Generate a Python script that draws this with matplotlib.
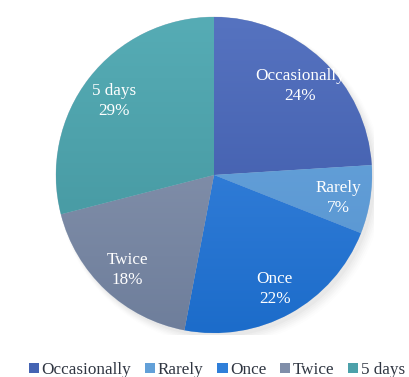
import matplotlib.pyplot as plt
import numpy as np
from matplotlib.colors import LinearSegmentedColormap
from matplotlib.patches import Patch, Circle

labels = ['Occasionally', 'Rarely', 'Once', 'Twice', '5 days']
shares = [24, 7, 22, 18, 29]
top_colors = ['#5673c0', '#6ca7dd', '#428ae2', '#8f9bb4', '#56acb5']
bottom_colors = ['#3955a5', '#5593d0', '#1c6cca', '#6e7e9b', '#41929b']
face_colors = ['#4564b3', '#62a0d8', '#2f7fd9', '#808ea9', '#4ca1aa']

plt.rcParams['font.family'] = ['Liberation Serif', 'DejaVu Serif']

fig = plt.figure(figsize=(4.09, 3.77), dpi=100)
ax = fig.add_axes([54 / 409, 42 / 377, 320 / 409, 320 / 377])

# soft drop shadow behind the pie
for i, a in enumerate(np.linspace(0.035, 0.01, 6)):
    ax.add_patch(Circle((0.02 + 0.004 * i, -0.025 - 0.004 * i), 1.0 + 0.006 * i,
                        color='#606060', alpha=a, lw=0, zorder=0))

wedges, texts = ax.pie(shares, colors=face_colors, startangle=90, counterclock=False,
                       radius=1.0, labels=None,
                       wedgeprops=dict(edgecolor='#c8d0dc', linewidth=0.4, zorder=1))

# vertical gradient inside each slice
grad = np.linspace(0, 1, 256).reshape(-1, 1)
for w, c0, c1 in zip(wedges, top_colors, bottom_colors):
    cmap = LinearSegmentedColormap.from_list('g', [c0, c1])
    im = ax.imshow(grad, cmap=cmap, extent=(-1, 1, -1, 1), origin='upper',
                   aspect='auto', zorder=1.5)
    im.set_clip_path(w)

# slice labels
start = 90.0
for lab, s in zip(labels, shares):
    span = s / sum(shares) * 360
    mid = np.deg2rad(start - span / 2)
    start -= span
    ax.text(0.8 * np.cos(mid), 0.8 * np.sin(mid) - 0.02, f'{lab}\n{s}%',
            ha='center', va='center', color='white', fontsize=12.3,
            linespacing=1.35, zorder=3)

lim = 160 / 158
ax.set_xlim(-lim, lim)
ax.set_ylim(-lim, lim)
ax.set_aspect('equal')
ax.axis('off')

handles = [Patch(facecolor=c, edgecolor='none') for c in face_colors]
fig.legend(handles, labels, loc='center', bbox_to_anchor=(217 / 409, 7 / 377), ncol=5,
           frameon=False, fontsize=12.3, handlelength=0.6, handleheight=0.6,
           handletextpad=0.15, columnspacing=0.8, labelcolor='#303642',
           borderpad=0, borderaxespad=0)

fig.savefig('out.png', dpi=100)
